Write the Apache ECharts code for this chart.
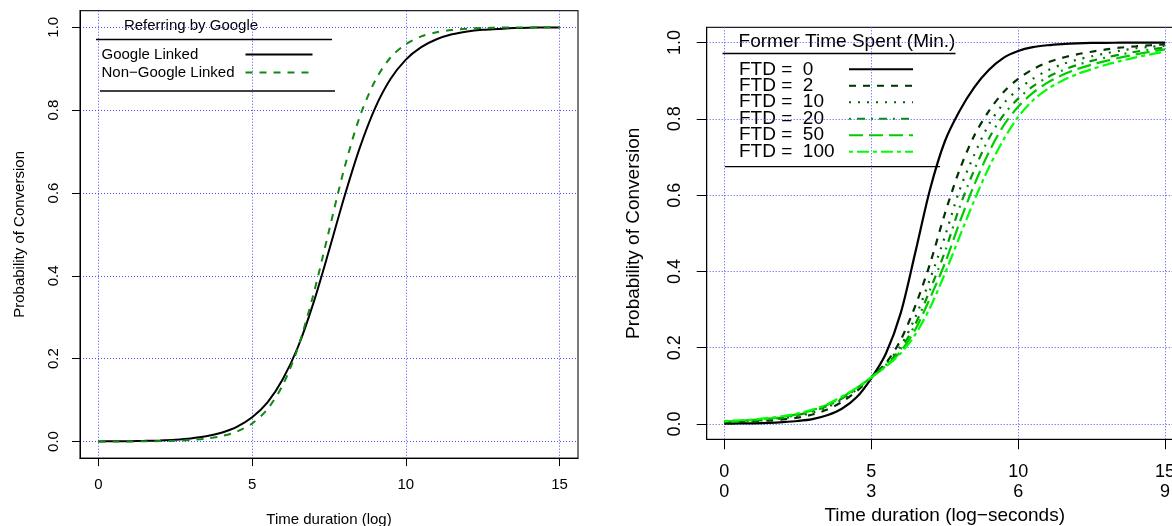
<!DOCTYPE html>
<html>
<head>
<meta charset="utf-8">
<script src="https://cdn.jsdelivr.net/npm/echarts@6/dist/echarts.min.js"></script>
<style>
html,body{margin:0;padding:0;background:#fff;}
#c{width:1172px;height:526px;}
</style>
</head>
<body>
<div id="c"></div>
<script>
// ---------- data ----------
const xValues = [0,0.5,1,1.5,2,2.5,3,3.5,4,4.5,5,5.5,6,6.5,7,7.5,8,8.5,9,9.5,10,10.5,11,11.5,12,12.5,13,13.5,14,14.5,15];

const leftSeriesNames = ['Google Linked', 'Non\u2212Google Linked'];
const googleLinked = [0.0003,0.0005,0.0009,0.0016,0.0027,0.0045,0.0075,0.0126,0.0212,0.0352,0.0584,0.0945,0.151,0.230,0.336,0.461,0.591,0.709,0.805,0.875,0.922,0.952,0.971,0.983,0.990,0.994,0.996,0.998,0.999,0.9993,0.9996];
const nonGoogleLinked = [0.0001,0.0002,0.0003,0.0006,0.0011,0.002,0.0037,0.0069,0.0129,0.0238,0.0436,0.0785,0.137,0.229,0.357,0.509,0.660,0.784,0.871,0.927,0.959,0.978,0.988,0.9936,0.9965,0.9981,0.999,0.9995,0.9997,0.9998,0.9999];

const ftdLabels = ['FTD =  0','FTD =  2','FTD =  10','FTD =  20','FTD =  50','FTD =  100'];
const ftd0   = [0.001,0.0015,0.002,0.003,0.005,0.008,0.013,0.023,0.040,0.070,0.120,0.185,0.290,0.450,0.615,0.740,0.820,0.882,0.928,0.960,0.978,0.988,0.993,0.996,0.998,0.999,0.9993,0.9996,0.9998,0.9999,1.0];
const ftd2   = [0.004,0.005,0.007,0.009,0.012,0.017,0.025,0.038,0.058,0.086,0.122,0.160,0.220,0.310,0.420,0.550,0.665,0.755,0.820,0.870,0.905,0.930,0.948,0.960,0.969,0.976,0.982,0.987,0.990,0.993,0.995];
const ftd10  = [0.005,0.006,0.008,0.011,0.015,0.021,0.030,0.044,0.064,0.090,0.123,0.158,0.205,0.280,0.380,0.490,0.612,0.705,0.785,0.840,0.877,0.905,0.927,0.943,0.955,0.964,0.972,0.979,0.985,0.989,0.992];
const ftd20  = [0.006,0.007,0.009,0.013,0.017,0.024,0.033,0.047,0.067,0.092,0.122,0.155,0.197,0.262,0.352,0.450,0.567,0.665,0.748,0.810,0.853,0.885,0.909,0.927,0.941,0.952,0.961,0.969,0.976,0.982,0.987];
const ftd50  = [0.007,0.008,0.011,0.014,0.019,0.026,0.036,0.050,0.070,0.094,0.122,0.153,0.190,0.248,0.330,0.420,0.527,0.626,0.712,0.782,0.832,0.868,0.895,0.915,0.930,0.942,0.952,0.961,0.969,0.976,0.982];
const ftd100 = [0.008,0.010,0.012,0.016,0.021,0.028,0.038,0.052,0.072,0.095,0.122,0.151,0.185,0.235,0.305,0.393,0.490,0.585,0.672,0.745,0.805,0.848,0.878,0.900,0.917,0.930,0.942,0.952,0.961,0.969,0.976];
const ftdValues = [ftd0, ftd2, ftd10, ftd20, ftd50, ftd100];

const xTicks = [0,5,10,15];
const xTickLabels = ['0','5','10','15'];
const xTickLabelsSeconds = ['0','3','6','9'];
const yTicks = [0,0.2,0.4,0.6,0.8,1.0];
const yTickLabels = ['0.0','0.2','0.4','0.6','0.8','1.0'];

// ---------- styles ----------
const FONT = '"Liberation Sans", Arial, Helvetica, sans-serif';
const leftColors = ['#000000', '#118811'];
const leftDash = ['solid', [7,7]];
const ftdColors = ['#000000','#003300','#006600','#009900','#00cc00','#00ff00'];
const ftdDash = ['solid', [7,7], [2,7], [2,6,8,6], [14,6], [4,4,12,4]];

function idx(arr, v){ let b=0, d=1e9; arr.forEach((a,i)=>{ if(Math.abs(a-v)<d){d=Math.abs(a-v);b=i;} }); return b; }
function pairs(ys){ return xValues.map((x,i)=>[x, ys[i]]); }

const chart = echarts.init(document.getElementById('c'), null, {renderer:'canvas'});

const gridStyle = {color:'#4b4bff', type:[1,2], width:1};

function xAxisCfg(g, o){
  return {
    gridIndex:g, type:'value', min:-0.6, max:15.6,
    axisLine:{show:true, onZero:false, lineStyle:{color:'#000', width:1}},
    axisTick:{show:true, customValues:xTicks, length:o.tick, lineStyle:{color:'#000', width:1}},
    axisLabel:{customValues:xTicks, color:'#000', fontFamily:FONT, fontSize:o.font, margin:o.margin, lineHeight:o.lh,
      formatter: v => o.second ? (xTickLabels[idx(xTicks,v)] + '\n' + xTickLabelsSeconds[idx(xTicks,v)]) : xTickLabels[idx(xTicks,v)]},
    splitLine:{show:true, lineStyle:gridStyle},
    name:o.name, nameLocation:'middle', nameGap:o.nameGap,
    nameTextStyle:{color:'#000', fontFamily:FONT, fontSize:o.nameFont}
  };
}
function yAxisCfg(g, o){
  return {
    gridIndex:g, type:'value', min:-0.04, max:1.04,
    axisLine:{show:true, onZero:false, lineStyle:{color:'#000', width:1}},
    axisTick:{show:true, customValues:yTicks, length:o.tick, lineStyle:{color:'#000', width:1}},
    axisLabel:{customValues:yTicks, rotate:90, color:'#000', fontFamily:FONT, fontSize:o.font, margin:o.margin,
      formatter: v => yTickLabels[idx(yTicks,v)]},
    splitLine:{show:true, lineStyle:gridStyle},
    name:'Probability of Conversion', nameLocation:'middle', nameGap:o.nameGap,
    nameTextStyle:{color:'#000', fontFamily:FONT, fontSize:o.nameFont}
  };
}

const series = [];
[googleLinked, nonGoogleLinked].forEach((ys,i)=>{
  series.push({type:'line', name:leftSeriesNames[i], xAxisIndex:0, yAxisIndex:0, data:pairs(ys),
    showSymbol:false, symbol:'none', smooth:0.3, silent:true,
    lineStyle:{color:leftColors[i], width:2, type:leftDash[i], cap:'butt'}});
});
ftdValues.forEach((ys,i)=>{
  series.push({type:'line', name:ftdLabels[i], xAxisIndex:1, yAxisIndex:1, data:pairs(ys),
    showSymbol:false, symbol:'none', smooth:0.3, silent:true,
    lineStyle:{color:ftdColors[i], width:2.2, type:ftdDash[i], cap:'butt'}});
});

// ---------- legends (drawn like R's legend) ----------
const graphics = [];
function txt(x,y,s,size,align){
  graphics.push({type:'text', x:x, y:y, silent:true,
    style:{text:s, font: size+'px '+FONT, fill:'#000', textAlign:align||'left', textVerticalAlign:'middle', align:align||'left', verticalAlign:'middle'}});
}
function ln(x1,y1,x2,y2,color,dash,w){
  graphics.push({type:'line', silent:true, shape:{x1:x1,y1:y1,x2:x2,y2:y2},
    style:{stroke:color, lineWidth:w||1, lineDash: dash==='solid'?null:dash, lineCap:'butt'}});
}
// left legend
txt(191, 25.5, 'Referring by Google', 15, 'center');
ln(96, 39.5, 332, 39.5, '#000', 'solid', 1.3);
leftSeriesNames.forEach((n,i)=>{
  const y = 54.5 + i*18;
  txt(101.5, y, n, 15);
  ln(245.5, y, 312.5, y, leftColors[i], leftDash[i], 2);
});
ln(100, 91, 335, 91, '#000', 'solid', 1.3);
// right legend
txt(847, 41.5, 'Former Time Spent (Min.)', 19, 'center');
ln(722.5, 53.5, 955.5, 53.5, '#000', 'solid', 1.3);
ftdLabels.forEach((n,i)=>{
  const y = 69.3 + i*16.48;
  txt(739, y, n, 19);
  ln(849, y, 913, y, ftdColors[i], ftdDash[i], 2);
});
ln(725, 166.7, 940, 166.7, '#000', 'solid', 1.3);

chart.setOption({
  animation:false,
  backgroundColor:'#fff',
  grid:[
    {left:80, top:10.7, width:498, height:447.4, show:true, borderColor:'#222', borderWidth:1.2, backgroundColor:'transparent', containLabel:false, outerBoundsMode:'none'},
    {left:706.7, top:27.3, width:476, height:412, show:true, borderColor:'#222', borderWidth:1.2, backgroundColor:'transparent', containLabel:false, outerBoundsMode:'none'}
  ],
  xAxis:[
    xAxisCfg(0, {tick:8, font:15, margin:18.5, lh:16, second:false, name:'Time duration (log)', nameGap:54, nameFont:15}),
    xAxisCfg(1, {tick:10, font:18, margin:22.4, lh:20, second:true, name:'Time duration (log\u2212seconds)', nameGap:63, nameFont:19})
  ],
  yAxis:[
    yAxisCfg(0, {tick:8, font:15, margin:18.5, nameGap:53, nameFont:15}),
    yAxisCfg(1, {tick:10, font:18, margin:22.7, nameGap:63, nameFont:19})
  ],
  series: series,
  graphic: graphics
});
</script>
</body>
</html>
